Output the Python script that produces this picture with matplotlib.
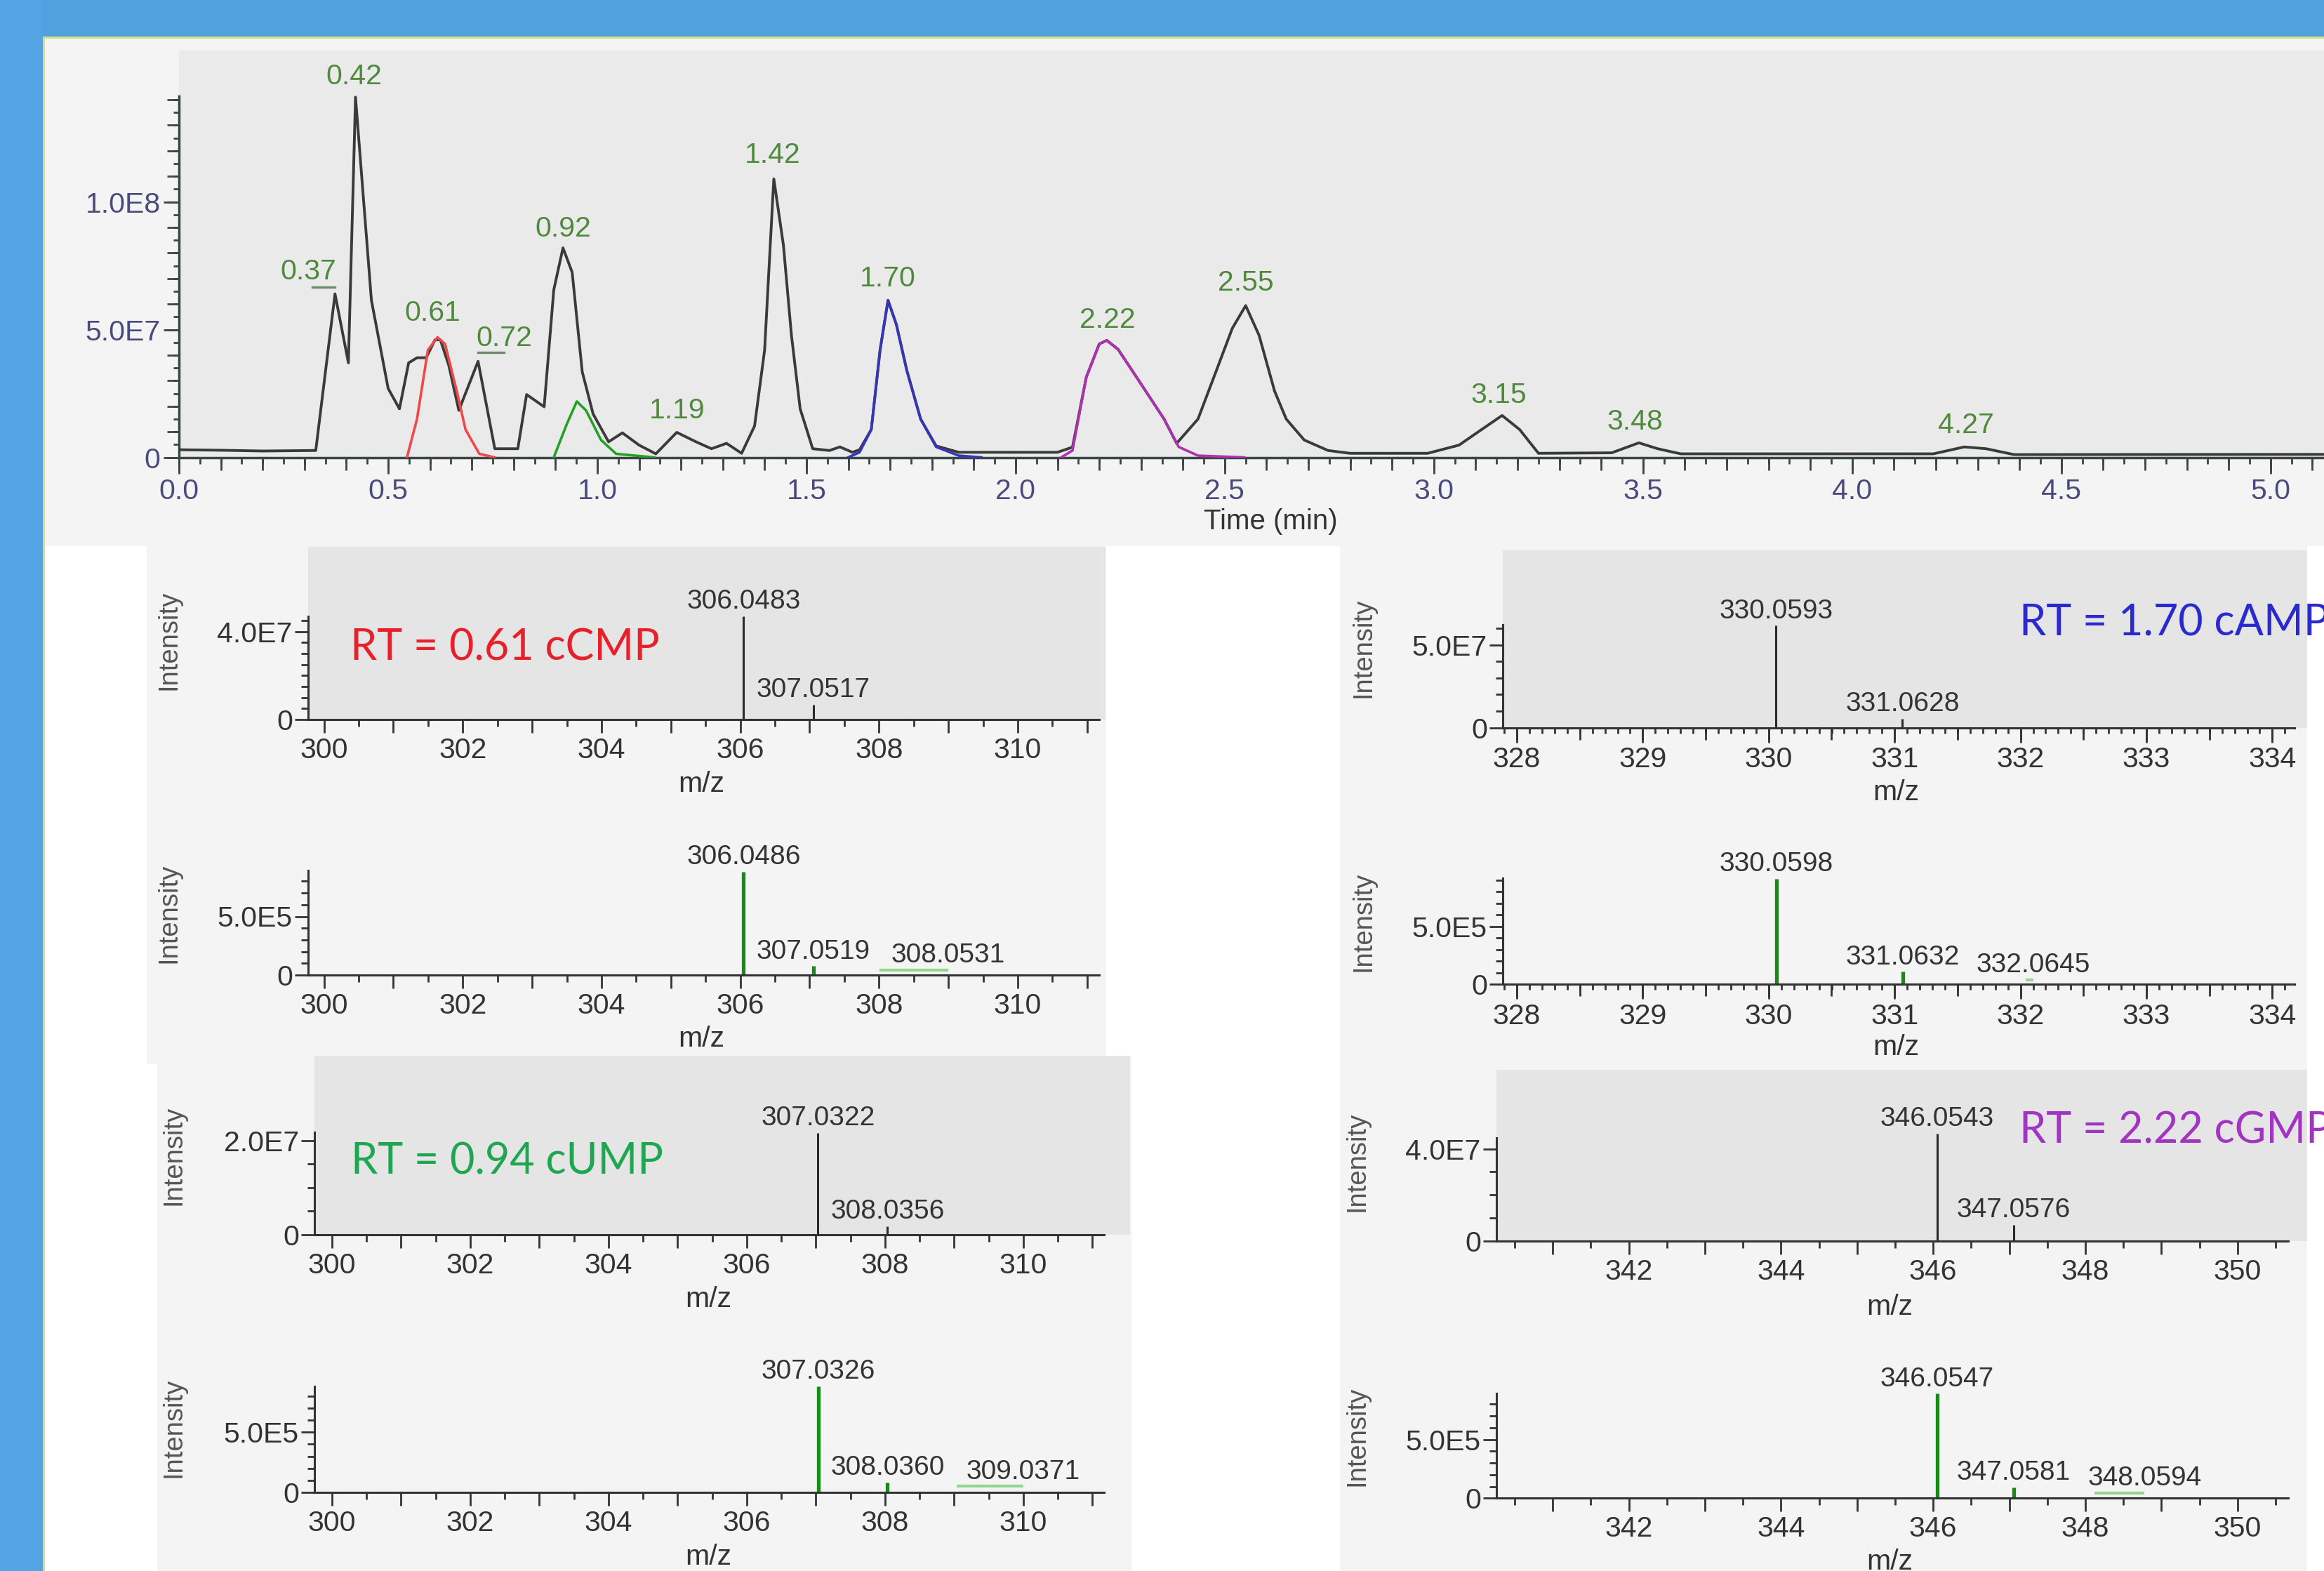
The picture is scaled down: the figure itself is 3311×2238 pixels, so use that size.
import numpy as np
import matplotlib
matplotlib.use("Agg")
import matplotlib.pyplot as plt
from matplotlib.patches import Rectangle

plt.rcParams['font.family'] = ['Liberation Sans', 'DejaVu Sans']

# ---------------- chromatogram data (time in min, intensity in 1e7 counts)
tic_time = [0.00, 0.10, 0.20, 0.327, 0.373, 0.405, 0.422, 0.46, 0.50, 0.527,
            0.549, 0.569, 0.591, 0.612, 0.625, 0.645, 0.669, 0.715, 0.755, 0.81,
            0.831, 0.873, 0.896, 0.918, 0.94, 0.964, 0.99, 1.027, 1.06, 1.10,
            1.14, 1.19, 1.236, 1.273, 1.309, 1.345, 1.376, 1.40, 1.422, 1.445,
            1.464, 1.485, 1.515, 1.555, 1.58, 1.61, 1.627, 1.655, 1.676, 1.695,
            1.715, 1.74, 1.773, 1.81, 1.864, 1.95, 2.10, 2.136, 2.169, 2.20,
            2.218, 2.245, 2.30, 2.355, 2.385, 2.436, 2.48, 2.518, 2.55, 2.582,
            2.619, 2.647, 2.69, 2.747, 2.80, 2.985, 3.06, 3.114, 3.163, 3.205,
            3.25, 3.425, 3.49, 3.535, 3.59, 4.194, 4.268, 4.32, 4.387, 5.13]
tic_int = [0.30, 0.28, 0.25, 0.27, 6.4, 3.7, 14.1, 6.15, 2.7, 1.9,
           3.7, 3.9, 3.9, 4.6, 4.6, 3.6, 1.84, 3.76, 0.34, 0.34,
           2.46, 1.98, 6.56, 8.2, 7.24, 3.35, 1.7, 0.61, 0.96, 0.48,
           0.14, 0.98, 0.61, 0.34, 0.55, 0.16, 1.23, 4.2, 10.9, 8.3,
           4.8, 1.9, 0.34, 0.27, 0.41, 0.2, 0.3, 1.09, 4.2, 6.15,
           5.2, 3.4, 1.5, 0.45, 0.2, 0.2, 0.2, 0.4, 3.14, 4.44,
           4.58, 4.23, 2.87, 1.5, 0.55, 1.5, 3.4, 5.05, 5.94, 4.78,
           2.6, 1.5, 0.68, 0.27, 0.16, 0.16, 0.48, 1.09, 1.64, 1.09,
           0.16, 0.18, 0.57, 0.34, 0.14, 0.14, 0.41, 0.34, 0.11, 0.12]

xic_ccmp_t = [0.545, 0.569, 0.595, 0.618, 0.636, 0.664, 0.685, 0.718, 0.755]
xic_ccmp_i = [0, 1.5, 4.2, 4.7, 4.44, 2.6, 1.09, 0.14, 0]
xic_cump_t = [0.896, 0.927, 0.951, 0.973, 1.009, 1.045, 1.136]
xic_cump_i = [0, 1.3, 2.19, 1.84, 0.68, 0.14, 0]
xic_camp_t = [1.60, 1.627, 1.655, 1.676, 1.695, 1.715, 1.74, 1.773, 1.81, 1.864, 1.918]
xic_camp_i = [0, 0.2, 1.09, 4.2, 6.15, 5.2, 3.4, 1.5, 0.41, 0.07, 0]
xic_cgmp_t = [2.109, 2.136, 2.169, 2.20, 2.218, 2.245, 2.30, 2.355, 2.39, 2.436, 2.546]
xic_cgmp_i = [0, 0.27, 3.14, 4.44, 4.58, 4.23, 2.87, 1.5, 0.41, 0.07, 0]

peak_rt = ['0.37', '0.42', '0.61', '0.72', '0.92', '1.19', '1.42', '1.70',
           '2.22', '2.55', '3.15', '3.48', '4.27']

# ---------------- mass spectra (m/z, intensity)
ccmp_obs_mz = [306.0483, 307.0517]
ccmp_obs_int = [4.71e7, 0.68e7]
ccmp_theo_mz = [306.0486, 307.0519]
ccmp_theo_int = [8.8e5, 0.75e5]
ccmp_iso3 = ('308.0531', 308.01, 309.0, 0.42e5)

camp_obs_mz = [330.0593, 331.0628]
camp_obs_int = [6.15e7, 0.55e7]
camp_theo_mz = [330.0598, 331.0632]
camp_theo_int = [9.1e5, 1.09e5]
camp_iso3 = ('332.0645', 332.04, 332.10, 0.4e5)

cump_obs_mz = [307.0322, 308.0356]
cump_obs_int = [2.16e7, 0.18e7]
cump_theo_mz = [307.0326, 308.0360]
cump_theo_int = [8.8e5, 0.82e5]
cump_iso3 = ('309.0371', 309.04, 310.0, 0.5e5)

cgmp_obs_mz = [346.0543, 347.0576]
cgmp_obs_int = [4.65e7, 0.72e7]
cgmp_theo_mz = [346.0547, 347.0581]
cgmp_theo_int = [8.9e5, 0.93e5]
cgmp_iso3 = ('348.0594', 348.12, 348.78, 0.45e5)

# ---------------- layout (pixel coordinates of the 3312x2238 picture)
W, H = 3312, 2238
fig = plt.figure(figsize=(W / 100, H / 100), dpi=100, facecolor='white')


def box(x0, x1, y0, y1):
    return [x0 / W, 1 - y1 / H, (x1 - x0) / W, (y1 - y0) / H]


def bg(x0, x1, y0, y1, color):
    fig.add_artist(Rectangle((x0 / W, 1 - y1 / H), (x1 - x0) / W, (y1 - y0) / H,
                             transform=fig.transFigure, facecolor=color,
                             edgecolor='none', zorder=-10))


def ftext(x, y, s, **kw):
    fig.text(x / W, 1 - y / H, s, **kw)


def sci(v):
    e = int(np.floor(np.log10(v)))
    return f"{v / 10 ** e:.1f}E{e}"


panel = '#f4f4f4'
bg(0, W, 0, 52, '#50a1dd')
bg(0, 61, 0, H, '#53a4e2')
bg(61, W, 52, 55, '#cfe08c')
bg(61, 64, 52, H, '#cfe08c')
bg(64, W, 55, 778, panel)
bg(209, 1576, 778, 1515, panel)
bg(224, 1612, 1505, H, panel)
bg(1909, 3287, 778, 1520, panel)
bg(1909, 3287, 1520, H, panel)

# ---------------- chromatogram
spine_c = '#3b4646'
lab_c = '#4a4a7c'
ax = fig.add_axes(box(255, W, 72, 651.6))
ax.set_facecolor('#eaeaea')
ax.set_xlim(0, (W - 254.8) / 596)
ax.set_ylim(0, (651.6 - 72) / 364 * 1e8)
for s in ('top', 'right'):
    ax.spines[s].set_visible(False)
for s in ('left', 'bottom'):
    ax.spines[s].set_color(spine_c)
    ax.spines[s].set_linewidth(2.5)
ax.spines['left'].set_bounds(0, 1.414e8)

ax.plot(tic_time, np.array(tic_int) * 1e7, color='#3a3a3a', lw=2.8, zorder=3)
ax.plot(xic_ccmp_t, np.array(xic_ccmp_i) * 1e7, color='#ee4848', lw=2.6, zorder=4)
ax.plot(xic_cump_t, np.array(xic_cump_i) * 1e7, color='#25a025', lw=2.6, zorder=4)
ax.plot(xic_camp_t, np.array(xic_camp_i) * 1e7, color='#3535bb', lw=2.6, zorder=4)
ax.plot(xic_cgmp_t, np.array(xic_cgmp_i) * 1e7, color='#b030b0', lw=2.6, zorder=4)

rt_lab_pos = [(0.309, 7.27), (0.418, 14.9), (0.606, 5.64), (0.777, 4.67),
              (0.919, 8.95), (1.191, 1.84), (1.419, 11.82), (1.695, 7.0),
              (2.219, 5.36), (2.550, 6.83), (3.155, 2.43), (3.481, 1.39),
              (4.272, 1.26)]
for lab, (tx, ty) in zip(peak_rt, rt_lab_pos):
    ax.text(tx, ty * 1e7, lab, ha='center', va='center', fontsize=29.5,
            color='#4f8a3c', zorder=5, clip_on=False)
# leader dashes under the shifted labels
ax.plot([0.318, 0.373], [6.66e7, 6.66e7], color='#6f8a6a', lw=2.4, zorder=5)
ax.plot([0.715, 0.777], [4.11e7, 4.11e7], color='#6f8a6a', lw=2.4, zorder=5)

xmax = ax.get_xlim()[1]
ax.set_xticks(np.arange(0, xmax, 0.5), [f"{v:.1f}" for v in np.arange(0, xmax, 0.5)])
ax.set_xticks(np.arange(0, xmax, 0.05), minor=True)
ax.set_yticks([0, 5e7, 1e8], ['0', '5.0E7', '1.0E8'])
ax.set_yticks(np.arange(0, 1.41e8, 5e6), minor=True)
ax.tick_params(axis='x', which='major', length=16.5, width=2, color=spine_c,
               labelsize=29.5, labelcolor=lab_c, pad=5)
ax.tick_params(axis='x', which='minor', length=6.5, width=2, color=spine_c)
ax.tick_params(axis='y', which='major', length=16, width=2, color=spine_c,
               labelsize=29.5, labelcolor=lab_c, pad=3)
ax.tick_params(axis='y', which='minor', length=6, width=2, color=spine_c)
secx = ax.secondary_xaxis('bottom')
secx.set_xticks(np.arange(0, xmax, 0.1))
secx.tick_params(length=13, width=2, color=spine_c, labelbottom=False)
secx.spines['bottom'].set_visible(False)
secy = ax.secondary_yaxis('left')
secy.set_yticks(np.arange(0, 1.41e8, 1e7))
secy.tick_params(length=12, width=2, color=spine_c, labelleft=False)
secy.spines['left'].set_visible(False)
ftext(1810, 743, 'Time (min)', ha='center', va='center', fontsize=29, color='#333333')

# ---------------- spectra
ccmp_lay = dict(x=(439, 1575), cal=(300, 461.6, 98.84), end=1566,
                top=(779, 1024.8), top_cal=(4e7, 125), top_spine=4.71e7, top_lab=4e7, top_step=5e6,
                bot=(1200, 1389), bot_cal=(5e5, 83.5), bot_spine=8.95e5, bot_lab=5e5, bot_step=1e5,
                xlab=2, xmid=None, xmin=0.5,
                int_x=240, int_y=(911.6, 1301), mz_x=999, mz_y=(1117, 1480), rt=(499, 923.4))
camp_lay = dict(x=(2141, 3287), cal=(328, 2161, 179.4), end=3268.8,
                top=(784, 1036.6), top_cal=(5e7, 118), top_spine=6.2e7, top_lab=5e7, top_step=1e7,
                bot=(1220, 1402.4), bot_cal=(5e5, 82.6), bot_spine=9.14e5, bot_lab=5e5, bot_step=1e5,
                xlab=1, xmid=0.5, xmin=0.1,
                int_x=1943, int_y=(923, 1312.7), mz_x=2701, mz_y=(1128.7, 1492), rt=(2877, 888))
cump_lay = dict(x=(448, 1610), cal=(300, 472.8, 98.5), end=1573,
                top=(1504, 1758.9), top_cal=(2e7, 134.2), top_spine=2.17e7, top_lab=2e7, top_step=5e6,
                bot=(1960, 2126), bot_cal=(5e5, 85.7), bot_spine=8.8e5, bot_lab=5e5, bot_step=1e5,
                xlab=2, xmid=None, xmin=0.5,
                int_x=248, int_y=(1646, 2034), mz_x=1009, mz_y=(1850.6, 2217.7), rt=(500.5, 1655.3))
cgmp_lay = dict(x=(2132, 3287), cal=(342, 2320.5, 108.4), end=3259.8,
                top=(1523.5, 1768.3), top_cal=(4e7, 131.8), top_spine=4.46e7, top_lab=4e7, top_step=1e7,
                bot=(1960, 2134.4), bot_cal=(5e5, 83.7), bot_spine=8.94e5, bot_lab=5e5, bot_step=1e5,
                xlab=2, xmid=None, xmin=0.5,
                int_x=1934, int_y=(1655, 2046), mz_x=2692, mz_y=(1862.4, 2224.8), rt=(2877, 1610.6))

sp_c = '#333333'


def spec_axes(lay, which):
    x0, x1 = lay['x']
    mz0, px0, ppu = lay['cal']
    ya, yb = lay[which]
    val, vpx = lay[which + '_cal']
    a = fig.add_axes(box(x0, x1, ya, yb))
    a.set_facecolor('#e5e5e5' if which == 'top' else 'none')
    lo = mz0 + (x0 - px0) / ppu
    hi = mz0 + (x1 - px0) / ppu
    end = mz0 + (lay['end'] - px0) / ppu
    a.set_xlim(lo, hi)
    a.set_ylim(0, val * (yb - ya) / vpx)
    for s in ('top', 'right'):
        a.spines[s].set_visible(False)
    for s in ('left', 'bottom'):
        a.spines[s].set_color(sp_c)
        a.spines[s].set_linewidth(2.2)
    a.spines['bottom'].set_bounds(lo, end)
    a.spines['left'].set_bounds(0, lay[which + '_spine'])

    major = np.arange(np.ceil(lo), end + 1e-6, 1.0)
    a.set_xticks(major, [f"{v:.0f}" if round(v) % lay['xlab'] == 0 else '' for v in major])
    step = lay['xmin']
    a.set_xticks(np.arange(np.ceil(lo / step) * step, end + 1e-6, step), minor=True)
    a.tick_params(axis='x', which='major', length=15 if lay['xmid'] else 14, width=2,
                  color=sp_c, labelsize=29.5, labelcolor=sp_c, pad=4)
    a.tick_params(axis='x', which='minor', length=5.5 if lay['xmid'] else 7, width=2, color=sp_c)
    if lay['xmid']:
        sec = a.secondary_xaxis('bottom')
        sec.set_xticks(np.arange(np.ceil(lo / lay['xmid']) * lay['xmid'], end + 1e-6, lay['xmid']))
        sec.tick_params(length=12, width=2, color=sp_c, labelbottom=False)
        sec.spines['bottom'].set_visible(False)

    ylab = lay[which + '_lab']
    a.set_yticks([0, ylab], ['0', sci(ylab)])
    ys = lay[which + '_step']
    a.set_yticks(np.arange(ys, lay[which + '_spine'] + 1e-3, ys), minor=True)
    a.tick_params(axis='y', which='major', length=14, width=2, color=sp_c,
                  labelsize=29.5, labelcolor=sp_c, pad=2)
    a.tick_params(axis='y', which='minor', length=7, width=2, color=sp_c)

    iy = lay['int_y'][0 if which == 'top' else 1]
    my = lay['mz_y'][0 if which == 'top' else 1]
    ftext(lay['int_x'], iy, 'Intensity', rotation=90, ha='center', va='center',
          fontsize=27.5, color='#555555')
    ftext(lay['mz_x'], my, 'm/z', ha='center', va='center', fontsize=29.5, color=sp_c)
    return a


def peak_label(a, x, y, s):
    a.annotate(s, (x, y), xytext=(0, 15), textcoords='offset points',
               ha='center', va='center', fontsize=28, color=sp_c,
               annotation_clip=False)


def spectrum_pair(lay, obs_mz, obs_int, theo_mz, theo_int, iso3, rt_text, rt_color):
    top = spec_axes(lay, 'top')
    top.vlines(obs_mz, 0, obs_int, color='#2a2a2a', lw=2.2)
    for m, v in zip(obs_mz, obs_int):
        peak_label(top, m, v, f"{m:.4f}")

    bot = spec_axes(lay, 'bot')
    bot.vlines(theo_mz, 0, theo_int, color='#178a17', lw=3.8)
    lab, m0, m1, v = iso3
    bot.hlines(v, m0, m1, color='#8fd88f', lw=3)
    for m, vv in zip(theo_mz, theo_int):
        peak_label(bot, m, vv, f"{m:.4f}")
    peak_label(bot, m1, v, lab)

    ftext(lay['rt'][0], lay['rt'][1], rt_text, ha='left', va='center',
          fontsize=44, color=rt_color, family=['Lato', 'DejaVu Sans'])


spectrum_pair(ccmp_lay, ccmp_obs_mz, ccmp_obs_int, ccmp_theo_mz, ccmp_theo_int,
              ccmp_iso3, 'RT = 0.61 cCMP', '#e8202a')
spectrum_pair(camp_lay, camp_obs_mz, camp_obs_int, camp_theo_mz, camp_theo_int,
              camp_iso3, 'RT = 1.70 cAMP', '#2a2ad0')
spectrum_pair(cump_lay, cump_obs_mz, cump_obs_int, cump_theo_mz, cump_theo_int,
              cump_iso3, 'RT = 0.94 cUMP', '#1fa650')
spectrum_pair(cgmp_lay, cgmp_obs_mz, cgmp_obs_int, cgmp_theo_mz, cgmp_theo_int,
              cgmp_iso3, 'RT = 2.22 cGMP', '#a234c4')

fig.savefig('out.png', dpi=100, facecolor=fig.get_facecolor())
